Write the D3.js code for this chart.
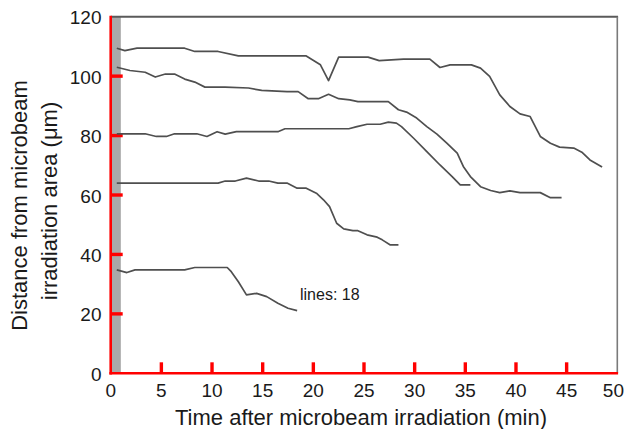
<!DOCTYPE html>
<html>
<head>
<meta charset="utf-8">
<script src="https://cdn.jsdelivr.net/npm/d3@7/dist/d3.min.js"></script>
<style>
  html, body { margin: 0; padding: 0; background: #fff; }
  svg { display: block; }
  text { font-family: "Liberation Sans", Arial, Helvetica, sans-serif; fill: #1a1a1a; }
</style>
</head>
<body>
<svg id="chart" width="626" height="429"></svg>
<script>
// ---- data ----
const xTicks = [5, 10, 15, 20, 25, 30, 35, 40, 45];
const yTicks = [20, 40, 60, 80, 100];
const xLabels = [0, 5, 10, 15, 20, 25, 30, 35, 40, 45, 50];
const yLabels = [0, 20, 40, 60, 80, 100, 120];
const irradiationBand = [0, 1];

const t1 = [0.6,1.4,2.6,7.3,8.3,10.6,12.6,15.7,19.3,20.7,21.5,22.5,25.4,26.5,28.9,31.5,32.5,33.5,35.6,36.5,37.4,38.4,39.4,40.4,41.4,42.4,43.4,44.3,45.7,46.5,47.3,48.5];
const v1 = [109.4,108.6,109.4,109.4,108.3,108.3,106.8,106.8,106.8,103.8,98.5,106.4,106.4,105.2,105.7,105.7,102.9,103.8,103.8,102.7,99.9,93.7,89.8,87.3,86.4,79.7,77.4,76.1,75.8,74.4,71.8,69.4];

const t2 = [0.6,1.9,3.4,4.4,5.4,6.3,7.3,8.3,9.3,11.3,13.6,14.9,17.4,18.5,19.5,20.5,21.5,22.5,23.6,24.4,27.4,28.4,29.2,30.2,31.2,32.2,33.2,34.2,34.8,35.5,36.5,37.5,38.4,39.4,40.4,42.4,43.4,44.5];
const v2 = [103.0,101.9,101.3,99.7,100.7,100.7,99.0,98.0,96.3,96.3,96.0,95.2,94.8,94.8,92.4,92.4,93.9,92.4,92.0,91.4,91.4,88.7,87.9,85.9,83.0,80.5,77.4,74.1,69.6,66.2,62.8,61.5,60.8,61.4,60.8,60.8,59.1,59.1];

const t3 = [0.6,3.4,4.5,5.5,6.3,8.5,9.5,10.5,11.3,12.4,16.5,17.2,23.5,24.3,25.3,26.6,27.4,28.2,28.7,29.9,31.2,32.5,33.7,34.5,35.5];
const v3 = [80.6,80.6,79.7,79.7,80.6,80.6,79.7,81.3,80.5,81.3,81.3,82.3,82.3,83.0,83.8,83.8,84.5,84.2,83.0,79.1,74.6,70.1,66.2,63.4,63.4];

const t4 = [0.6,10.6,11.3,12.3,13.4,14.6,15.6,16.5,17.4,18.4,19.3,20.3,21.0,21.6,22.3,23.0,23.9,24.4,25.3,26.3,26.8,27.6,28.4];
const v4 = [64.0,64.0,64.7,64.7,65.7,64.7,64.7,64.0,64.0,62.3,62.3,60.6,58.4,56.1,50.5,48.6,48.0,48.0,46.6,45.8,44.9,43.2,43.2];

const t5 = [0.6,1.6,2.4,7.3,8.3,11.5,11.9,12.6,13.4,14.4,15.4,16.5,17.5,18.4];
const v5 = [34.8,33.9,34.8,34.8,35.6,35.6,34.2,30.8,26.4,26.9,25.8,23.6,21.9,21.1];

const xTitle = "Time after microbeam irradiation (min)";
const yTitle1 = "Distance from microbeam";
const yTitle2 = "irradiation area (\u03bcm)";

// ---- layout ----
const svg = d3.select("#chart");
const pLeft = 110.7, pRight = 617.3, pTop = 16.7, pBottom = 373.3;
const x = d3.scaleLinear().domain([0, 50]).range([pLeft, pRight]);
const y = d3.scaleLinear().domain([0, 120]).range([pBottom, pTop]);
const lineGen = d3.line().x(d => x(d[0])).y(d => y(d[1]));

// irradiation band
svg.append("rect")
  .attr("x", x(irradiationBand[0]))
  .attr("y", y(120))
  .attr("width", x(irradiationBand[1]) - x(irradiationBand[0]))
  .attr("height", y(0) - y(120))
  .attr("fill", "#a9a9a9");

// frame: top & right (gray)
svg.append("line").attr("x1", pLeft).attr("x2", pRight + 0.8).attr("y1", pTop).attr("y2", pTop)
  .attr("stroke", "#5a5a5a").attr("stroke-width", 2);
svg.append("line").attr("x1", pRight).attr("x2", pRight).attr("y1", pTop).attr("y2", pBottom)
  .attr("stroke", "#7a7a7a").attr("stroke-width", 1.6);

// axis lines
svg.append("line").attr("x1", pLeft - 1.3).attr("x2", pRight + 0.8).attr("y1", pBottom).attr("y2", pBottom)
  .attr("stroke", "red").attr("stroke-width", 2.6);
svg.append("line").attr("x1", pLeft).attr("x2", pLeft).attr("y1", pTop - 1).attr("y2", pBottom + 1.3)
  .attr("stroke", "red").attr("stroke-width", 2.6);

// inward ticks
svg.append("g").selectAll("line").data(xTicks).join("line")
  .attr("x1", d => x(d)).attr("x2", d => x(d))
  .attr("y1", pBottom).attr("y2", pBottom - 11)
  .attr("stroke", "red").attr("stroke-width", 3.4);
svg.append("g").selectAll("line").data(yTicks).join("line")
  .attr("x1", pLeft).attr("x2", pLeft + 12)
  .attr("y1", d => y(d)).attr("y2", d => y(d))
  .attr("stroke", "red").attr("stroke-width", 3.4);

// series
const allSeries = [[t1, v1], [t2, v2], [t3, v3], [t4, v4], [t5, v5]];
allSeries.forEach(([ts, vs]) => {
  svg.append("path")
    .datum(ts.map((t, i) => [t, vs[i]]))
    .attr("d", lineGen)
    .attr("fill", "none")
    .attr("stroke", "#4f4f4f")
    .attr("stroke-width", 1.7)
    .attr("stroke-linejoin", "round");
});

// tick labels
svg.append("g").selectAll("text").data(xLabels).join("text")
  .attr("x", d => d === 50 ? 624 : x(d))
  .attr("y", 396.5)
  .attr("text-anchor", d => d === 50 ? "end" : "middle")
  .attr("font-size", 19)
  .text(d => d);
svg.append("g").selectAll("text").data(yLabels).join("text")
  .attr("x", 101.5)
  .attr("y", d => y(d) + 7.5)
  .attr("text-anchor", "end")
  .attr("font-size", 19)
  .text(d => d);

// titles
svg.append("text")
  .attr("x", (pLeft + pRight) / 2 - 3)
  .attr("y", 424.5)
  .attr("text-anchor", "middle")
  .attr("font-size", 22)
  .text(xTitle);
svg.append("text")
  .attr("transform", "translate(27,205.5) rotate(-90)")
  .attr("text-anchor", "middle")
  .attr("font-size", 22)
  .text(yTitle1);
svg.append("text")
  .attr("transform", "translate(57,201) rotate(-90)")
  .attr("text-anchor", "middle")
  .attr("font-size", 22)
  .text(yTitle2);
svg.append("text").attr("x", 300).attr("y", 300).attr("font-size", 16)
  .text("lines: " + document.querySelectorAll("line").length);
</script>
</body>
</html>
